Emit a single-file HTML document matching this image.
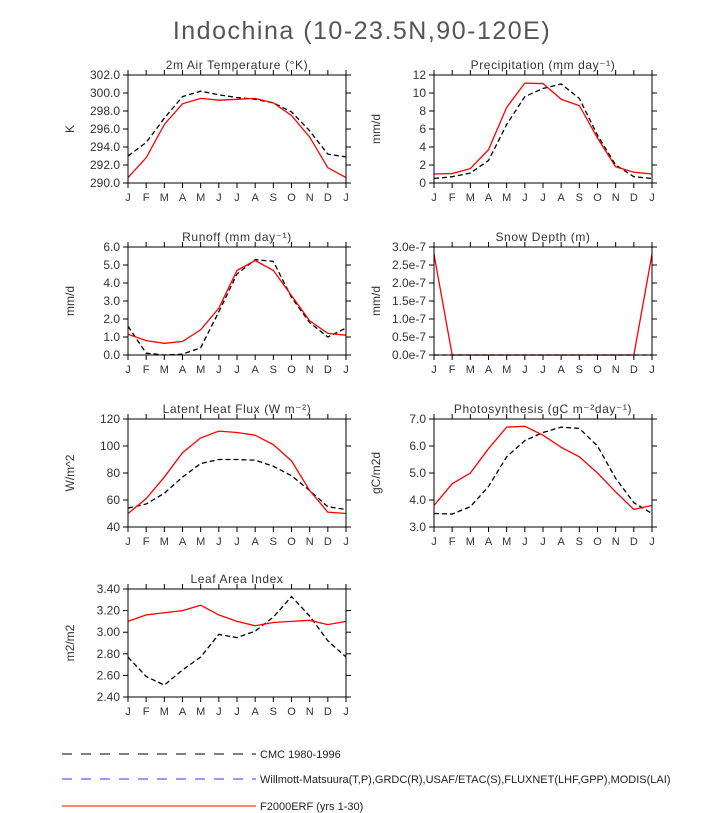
<!DOCTYPE html>
<html><head><meta charset="utf-8"><style>
body{margin:0;background:#fff;}
svg{display:block;font-family:"Liberation Sans","DejaVu Sans",sans-serif;}
</style></head><body>
<svg id="chart" width="722" height="813" viewBox="0 0 722 813">
<text x="362" y="39" text-anchor="middle" font-size="25" fill="#555" letter-spacing="1.5">Indochina (10-23.5N,90-120E)</text>
<g id="panels"></g>
<g>
<line x1="62" y1="754" x2="256" y2="754" stroke="#000" stroke-dasharray="10,9"/>
<text x="260" y="758" font-size="11" fill="#222">CMC 1980-1996</text>
<line x1="62" y1="779" x2="256" y2="779" stroke="#33f" stroke-dasharray="10,9"/>
<text x="260" y="783" font-size="11" fill="#222">Willmott-Matsuura(T,P),GRDC(R),USAF/ETAC(S),FLUXNET(LHF,GPP),MODIS(LAI)</text>
<line x1="62" y1="806" x2="256" y2="806" stroke="#f00" stroke-width="1"/>
<text x="260" y="810" font-size="11" fill="#222">F2000ERF (yrs 1-30)</text>
</g>
</svg>
<script>
const months=["J","F","M","A","M","J","J","A","S","O","N","D","J"];
const tempModel=[290.6,292.8,296.5,298.8,299.4,299.2,299.3,299.4,298.9,297.5,295.1,291.7,290.6];
const tempObs=[293.0,294.5,297.2,299.6,300.2,299.8,299.5,299.3,298.9,297.9,295.8,293.2,292.9];
const precModel=[1.0,1.05,1.6,3.7,8.4,11.1,11.05,9.3,8.6,5.0,1.8,1.2,1.0];
const precObs=[0.5,0.7,1.1,2.5,6.5,9.6,10.5,11.0,9.4,5.3,2.0,0.7,0.5];
const runModel=[1.15,0.8,0.65,0.75,1.4,2.6,4.7,5.25,4.7,3.3,1.9,1.2,1.1];
const runObs=[1.6,0.1,0.0,0.05,0.4,2.4,4.5,5.3,5.2,3.2,1.8,1.0,1.5];
const snowModel=[2.8e-7,0,0,0,0,0,0,0,0,0,0,0,2.8e-7];
const snowObs=[0,0,0,0,0,0,0,0,0,0,0,0,0];
const lhModel=[50,61,77,95,106,111,110,108,101,89,67,51,50];
const lhObs=[54,57,65,77,87,90,90,89.5,85,78,67,55,53];
const gppModel=[3.8,4.6,5.0,5.9,6.7,6.73,6.4,5.95,5.6,5.0,4.3,3.65,3.8];
const gppObs=[3.5,3.48,3.75,4.5,5.6,6.2,6.5,6.7,6.65,6.0,4.8,3.9,3.5];
const laiModel=[3.10,3.16,3.18,3.20,3.25,3.16,3.10,3.06,3.09,3.10,3.11,3.07,3.10];
const laiObs=[2.77,2.59,2.51,2.65,2.77,2.98,2.95,3.01,3.14,3.33,3.15,2.92,2.77];
const tempTicks=["290.0","292.0","294.0","296.0","298.0","300.0","302.0"];
const precTicks=["0","2","4","6","8","10","12"];
const runTicks=["0.0","1.0","2.0","3.0","4.0","5.0","6.0"];
const snowTicks=["0.0e-7","0.5e-7","1.0e-7","1.5e-7","2.0e-7","2.5e-7","3.0e-7"];
const lhTicks=["40","60","80","100","120"];
const gppTicks=["3.0","4.0","5.0","6.0","7.0"];
const laiTicks=["2.40","2.60","2.80","3.00","3.20","3.40"];

const NS="http://www.w3.org/2000/svg";
const root=document.getElementById('panels');
function el(tag,attrs,parent){const e=document.createElementNS(NS,tag);for(const k in attrs)e.setAttribute(k,attrs[k]);parent.appendChild(e);return e;}
const panels=[
 {id:"temperature",title:"2m Air Temperature (\u00B0K)",yl:"K",x0:128,y0:75,ticks:tempTicks,min:290,max:302,m:tempModel,o:tempObs},
 {id:"precipitation",title:"Precipitation (mm day\u207B\u00B9)",yl:"mm/d",x0:434,y0:75,ticks:precTicks,min:0,max:12,m:precModel,o:precObs},
 {id:"runoff",title:"Runoff (mm day\u207B\u00B9)",yl:"mm/d",x0:128,y0:247,ticks:runTicks,min:0,max:6,m:runModel,o:runObs},
 {id:"snow-depth",title:"Snow Depth (m)",yl:"mm/d",x0:434,y0:247,ticks:snowTicks,min:0,max:3e-7,m:snowModel,o:snowObs},
 {id:"latent-heat",title:"Latent Heat Flux (W m\u207B\u00B2)",yl:"W/m^2",x0:128,y0:419,ticks:lhTicks,min:40,max:120,m:lhModel,o:lhObs},
 {id:"photosynthesis",title:"Photosynthesis (gC m\u207B\u00B2day\u207B\u00B9)",yl:"gC/m2d",x0:434,y0:419,ticks:gppTicks,min:3,max:7,m:gppModel,o:gppObs},
 {id:"lai",title:"Leaf Area Index",yl:"m2/m2",x0:128,y0:589,ticks:laiTicks,min:2.4,max:3.4,m:laiModel,o:laiObs}
];
const W=218,H=108;
panels.forEach(p=>{
 const g=el('g',{},root);
 
 
 const xs=i=>p.x0+i*W/12;
 const ys=v=>p.y0+H-(v-p.min)/(p.max-p.min)*H;
 const t=el('text',{x:p.x0+W/2,y:p.y0-6,'text-anchor':'middle','font-size':12,fill:'#333','letter-spacing':0.6},g);t.textContent=p.title;
 
 
 months.forEach((mn,i)=>{
  el('line',{x1:xs(i),x2:xs(i),y1:p.y0,y2:p.y0-5,stroke:'#000'},g);
  el('line',{x1:xs(i),x2:xs(i),y1:p.y0+H,y2:p.y0+H+5,stroke:'#000'},g);
  const l=el('text',{x:xs(i),y:p.y0+H+18,'text-anchor':'middle','font-size':11,fill:'#333'},g);l.textContent=mn;
  
  
 });
 const n=p.ticks.length-1;
 p.ticks.forEach((tk,i)=>{
  const v=p.min+(p.max-p.min)*i/n,y=ys(v);
  el('line',{x1:p.x0-5,x2:p.x0,y1:y,y2:y,stroke:'#000'},g);
  el('line',{x1:p.x0+W,x2:p.x0+W+5,y1:y,y2:y,stroke:'#000'},g);
  const l=el('text',{x:p.x0-8,y:y+4,'text-anchor':'end','font-size':12,fill:'#333'},g);l.textContent=tk;
  
  
 });
 const yt=el('text',{transform:`translate(${p.x0-54},${p.y0+H/2}) rotate(-90)`,'text-anchor':'middle','font-size':12,fill:'#333'},g);yt.textContent=p.yl;
 
 
 const pts=a=>a.map((v,i)=>xs(i)+','+ys(v)).join(' ');
 const lo=el('polyline',{points:pts(p.o),fill:'none',stroke:'#000','stroke-width':1.3,'stroke-dasharray':'5,3'},g);
 
 
 const lm=el('polyline',{points:pts(p.m),fill:'none',stroke:'#f00','stroke-width':1.3},g);
 
 
 el('rect',{x:p.x0,y:p.y0,width:W,height:H,fill:'none',stroke:'#000','stroke-width':1},g);
});
</script>
</body></html>
